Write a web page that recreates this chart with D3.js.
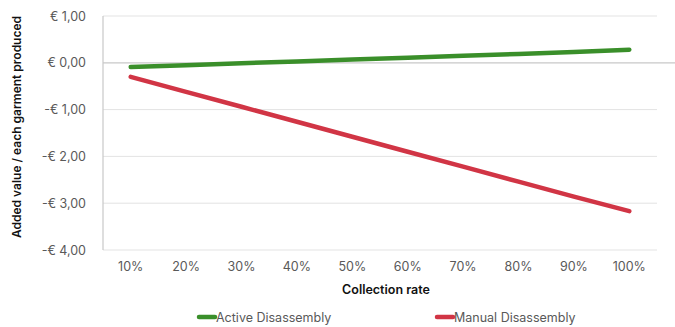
<!DOCTYPE html>
<html>
<head>
<meta charset="utf-8">
<script src="https://cdn.jsdelivr.net/npm/d3@7"></script>
<style>
  html, body { margin: 0; padding: 0; background: #fff; }
  svg { display: block; font-family: Inter, "Noto Sans", sans-serif; }
</style>
</head>
<body>
<svg id="chart" width="675" height="327"></svg>
<script>
// Collection rate categories
const categories = ["10%", "20%", "30%", "40%", "50%", "60%", "70%", "80%", "90%", "100%"];
// Added value per garment (EUR)
const activeDisassembly = [-0.09, -0.05, -0.01, 0.03, 0.07, 0.11, 0.15, 0.19, 0.23, 0.28];
const manualDisassembly = [-0.30, -0.62, -0.94, -1.26, -1.58, -1.90, -2.22, -2.54, -2.86, -3.17];
const yTicks = [1, 0, -1, -2, -3, -4];
const seriesNames = ["Active Disassembly", "Manual Disassembly"];
const seriesColors = ["#3a8f2a", "#d13545"];

const svg = d3.select("#chart");
const plotLeft = 103, plotRight = 657, plotTop = 16, plotBottom = 250;

const x = d3.scaleBand().domain(categories).range([plotLeft, plotRight]);
const y = d3.scaleLinear().domain([-4, 1]).range([plotBottom, plotTop]);

const fmt = v => (v < 0 ? "-€ " : "€ ") + Math.abs(v).toFixed(2).replace(".", ",");

// horizontal gridlines
svg.append("g")
  .selectAll("line")
  .data(yTicks.filter(d => d !== 0 && d !== -4))
  .join("line")
  .attr("x1", plotLeft).attr("x2", plotRight)
  .attr("y1", d => y(d)).attr("y2", d => y(d))
  .attr("stroke", "#e3e3e3").attr("stroke-width", 1);

// bottom axis baseline
svg.append("line")
  .attr("x1", plotLeft).attr("x2", plotRight)
  .attr("y1", y(-4)).attr("y2", y(-4))
  .attr("stroke", "#e3e3e3");

// left axis line
svg.append("line")
  .attr("x1", plotLeft).attr("x2", plotLeft)
  .attr("y1", y(1)).attr("y2", y(-4))
  .attr("stroke", "#c8c8c8").attr("stroke-width", 1.2);

// zero line
svg.append("line")
  .attr("x1", plotLeft).attr("x2", 675)
  .attr("y1", y(0)).attr("y2", y(0))
  .attr("stroke", "#c8c8c8").attr("stroke-width", 1.2);

// y axis labels
const yAxis = d3.axisLeft(y).tickValues(yTicks).tickFormat(fmt).tickSize(0).tickPadding(17);
const yg = svg.append("g").attr("transform", `translate(${plotLeft},0)`).call(yAxis);
yg.select(".domain").remove();
yg.selectAll("text").attr("fill", "#595959").attr("font-size", 12.5).attr("font-family", "Inter, sans-serif");

// x axis labels
const xAxis = d3.axisBottom(x).tickSize(0).tickPadding(12);
const xg = svg.append("g").attr("transform", `translate(0,${plotBottom})`).call(xAxis);
xg.select(".domain").remove();
xg.selectAll("text").attr("fill", "#595959").attr("font-size", 12.5).attr("font-family", "Inter, sans-serif");

// axis titles
svg.append("text")
  .attr("x", 386).attr("y", 294)
  .attr("text-anchor", "middle")
  .attr("font-size", 12.5).attr("font-weight", 600).attr("fill", "#111")
  .text("Collection rate");

svg.append("text")
  .attr("transform", "translate(21,127) rotate(-90)")
  .attr("text-anchor", "middle")
  .attr("font-size", 12).attr("font-weight", 600).attr("fill", "#111")
  .text("Added value / each garment produced");

// series lines
const line = d3.line()
  .x((d, i) => x(categories[i]) + x.bandwidth() / 2)
  .y(d => y(d));

[activeDisassembly, manualDisassembly].forEach((s, k) => {
  svg.append("path")
    .datum(s)
    .attr("fill", "none")
    .attr("stroke", seriesColors[k])
    .attr("stroke-width", 4.5)
    .attr("stroke-linecap", "round")
    .attr("stroke-linejoin", "round")
    .attr("d", line);
});

// legend
const legendX = [198, 436];
seriesNames.forEach((name, k) => {
  const g = svg.append("g").attr("transform", `translate(${legendX[k]},317)`);
  g.append("line")
    .attr("x1", 1).attr("x2", 17).attr("y1", 0).attr("y2", 0)
    .attr("stroke", seriesColors[k]).attr("stroke-width", 4.5).attr("stroke-linecap", "round");
  g.append("text")
    .attr("x", 18).attr("y", 4.5)
    .attr("font-size", 12.5).attr("fill", "#595959")
    .text(name);
});
</script>
</body>
</html>
